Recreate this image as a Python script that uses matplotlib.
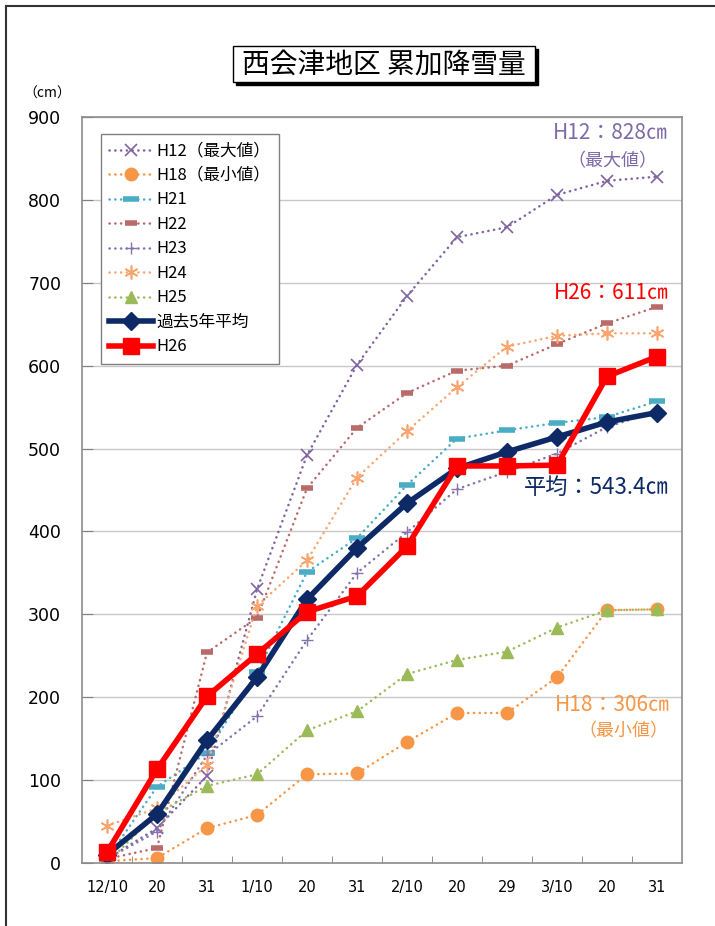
import matplotlib
matplotlib.use("Agg")
import matplotlib.pyplot as plt
from matplotlib.lines import Line2D
from matplotlib.patches import Rectangle

plt.rcParams['font.family'] = ['Noto Sans CJK JP', 'DejaVu Sans']

categories = ["12/10", "20", "31", "1/10", "20", "31", "2/10", "20", "29", "3/10", "20", "31"]

h12 = [5, 42, 105, 330, 492, 601, 684, 755, 767, 806, 823, 828]
h18 = [2, 6, 42, 58, 107, 108, 146, 181, 181, 224, 305, 306]
h21 = [5, 92, 133, 230, 351, 392, 456, 512, 522, 531, 538, 557]
h22 = [5, 18, 254, 296, 452, 525, 567, 594, 600, 626, 651, 671]
h23 = [5, 38, 130, 177, 269, 350, 399, 451, 472, 494, 526, 545]
h24 = [45, 66, 118, 310, 365, 465, 521, 574, 623, 636, 639, 639]
h25 = [0, 60, 93, 107, 160, 183, 228, 245, 255, 284, 305, 306]
avg5 = [10, 59, 148, 224, 318, 380, 434, 476, 496, 514, 532, 543.4]
h26 = [13, 113, 201, 252, 303, 322, 382, 479, 479, 480, 587, 611]

series_labels = ["H12（最大値）", "H18（最小値）", "H21", "H22", "H23", "H24", "H25", "過去5年平均", "H26"]

fig = plt.figure(figsize=(7.15, 9.26), dpi=100)
W, H = 715, 926
ax = fig.add_axes([82 / W, 1 - 863 / H, 600 / W, 746 / H])

x = list(range(len(categories)))

dot = dict(linestyle=(0, (0.1, 2.2)), linewidth=1.8, dash_capstyle='round')
ax.plot(x, h12, color='#8064A2', marker='x', markersize=9, markeredgewidth=1.2, label=series_labels[0], **dot)
ax.plot(x, h18, color='#F79646', marker='o', markersize=9, label=series_labels[1], **dot)
ax.plot(x, h21, color='#4BACC6', marker='_', markersize=11, markeredgewidth=4, label=series_labels[2], **dot)
ax.plot(x, h22, color='#B96B6A', marker='_', markersize=9, markeredgewidth=4, label=series_labels[3], **dot)
ax.plot(x, h23, color='#8573AE', marker='+', markersize=9, markeredgewidth=1.0, label=series_labels[4], **dot)
ax.plot(x, h24, color='#F8A570', marker=(6, 2, 0), markersize=10, markeredgewidth=1.2, label=series_labels[5], **dot)
ax.plot(x, h25, color='#9BBB59', marker='^', markersize=9, label=series_labels[6], **dot)
ax.plot(x, avg5, color='#0D2A66', marker='D', markersize=9, linewidth=4, label=series_labels[7])
ax.plot(x, h26, color='#FF0000', marker='s', markersize=11, linewidth=4, label=series_labels[8])

ax.set_xlim(-0.5, len(categories) - 0.5)
ax.set_ylim(0, 900)
ax.set_yticks(range(0, 901, 100))
ax.set_xticks(x)
ax.set_xticklabels(categories, fontsize=10.5, family=['DejaVu Sans'])
ax.set_xticks([i + 0.5 for i in range(len(categories) - 1)], minor=True)
ax.tick_params(axis='x', which='major', length=0, pad=12)
ax.tick_params(axis='x', which='minor', direction='in', length=5, color='#808080')
ax.tick_params(axis='y', direction='in', length=8, color='#808080', labelsize=12.5, pad=15)
for lab in ax.get_yticklabels():
    lab.set_family(['DejaVu Sans'])

ax.grid(axis='y', color='#C8C8C8', linewidth=1.0)
ax.set_axisbelow(True)
for s in ax.spines.values():
    s.set_color('#8C8C8C')
    s.set_linewidth(1.2)

leg = ax.legend(loc='upper left', bbox_to_anchor=(19 / 600, 1 - 17 / 746), fontsize=12,
                frameon=True, fancybox=False, edgecolor='#808080', framealpha=1,
                handlelength=2.6, labelspacing=0.45, borderpad=0.5, handletextpad=0.25,
                borderaxespad=0)
leg.get_frame().set_linewidth(1.0)

notes = [
    (668, 133, "H12：828㎝", 15, '#7E6AA8'),
    (657, 161, "（最大値）", 13, '#7E6AA8'),
    (669, 293, "H26：611㎝", 15, '#FF0000'),
    (669, 487, "平均：543.4㎝", 16, '#0D2A66'),
    (670, 705, "H18：306㎝", 15, '#F79646'),
    (668, 731, "（最小値）", 13, '#F79646'),
]
for px, py, txt, fs, col in notes:
    fig.text(px / W, 1 - py / H, txt, fontsize=fs, color=col, ha='right', va='center')

fig.text(47 / W, 1 - 94 / H, "（cm）", fontsize=10, ha='center', va='center')

# title box with shadow
fig.patches.append(Rectangle((236 / W, 1 - 85 / H), 302 / W, 36 / H, transform=fig.transFigure,
                             facecolor='black', edgecolor='black', zorder=1))
fig.patches.append(Rectangle((233 / W, 1 - 82 / H), 302 / W, 36 / H, transform=fig.transFigure,
                             facecolor='white', edgecolor='black', linewidth=1.0, zorder=2))
fig.text(384 / W, 1 - 65 / H, "西会津地区 累加降雪量", fontsize=20, ha='center', va='center', zorder=3)

# outer frame lines (left and top)
fig.add_artist(Line2D([6 / W, 6 / W], [0, 1 - 6 / H], transform=fig.transFigure, color='#333333', linewidth=1.5))
fig.add_artist(Line2D([6 / W, 1], [1 - 6 / H, 1 - 6 / H], transform=fig.transFigure, color='#333333', linewidth=1.5))

fig.savefig("out.png", dpi=100)
